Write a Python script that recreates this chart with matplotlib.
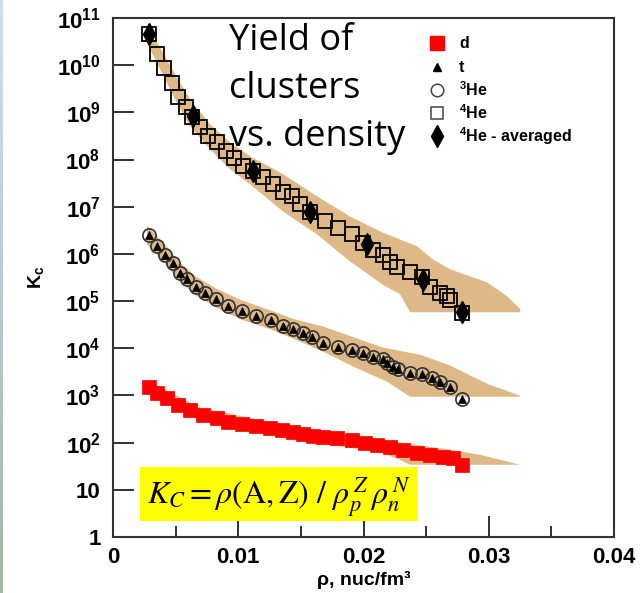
import numpy as np
import matplotlib.pyplot as plt
from matplotlib.patches import Rectangle
from matplotlib.ticker import FixedLocator, FuncFormatter, MultipleLocator

plt.rcParams['font.family'] = ['Liberation Sans', 'DejaVu Sans']
plt.rcParams['mathtext.fontset'] = 'custom'
plt.rcParams['mathtext.rm'] = 'Liberation Sans:bold'
plt.rcParams['mathtext.bf'] = 'Liberation Sans:bold'
plt.rcParams['mathtext.it'] = 'Liberation Sans:bold'

# ---- measured constants (density in nuc/fm^3) ----
rho_d = [0.00288, 0.00351, 0.00431, 0.00519, 0.00615, 0.00719, 0.00831, 0.00919,
         0.01030, 0.01142, 0.01254, 0.01350, 0.01438, 0.01518, 0.01597, 0.01677,
         0.01789, 0.01909, 0.02013, 0.02109, 0.02212, 0.02316, 0.02428, 0.02532,
         0.02636, 0.02716, 0.02788]
k_d = [1514, 1148, 891, 631, 501, 389, 339, 275, 251, 229, 204, 186, 170, 155,
       138, 132, 126, 115, 100, 89, 81, 71, 60, 55, 50, 48, 34]

rho_3he = [0.00288, 0.00351, 0.00415, 0.00479, 0.00535, 0.00591, 0.00663, 0.00735,
           0.00823, 0.00919, 0.01030, 0.01142, 0.01262, 0.01358, 0.01438, 0.01518,
           0.01589, 0.01677, 0.01797, 0.01909, 0.01997, 0.02077, 0.02157, 0.02188,
           0.02236, 0.02276, 0.02372, 0.02468, 0.02548, 0.02612, 0.02692, 0.02788]
k_3he = [2.5e6, 1.5e6, 9.7e5, 6.3e5, 4.0e5, 3.0e5, 2.0e5, 1.5e5, 1.1e5, 8.0e4,
         6.3e4, 4.9e4, 3.9e4, 3.0e4, 2.5e4, 2.1e4, 1.7e4, 1.3e4, 1.08e4, 9.3e3,
         8.1e3, 6.6e3, 5.8e3, 4.9e3, 4.1e3, 3.7e3, 3.0e3, 2.8e3, 2.3e3, 1.9e3,
         1.5e3, 850]
# triton constants coincide with 3He
rho_t = rho_3he
k_t = k_3he

rho_4he = [0.00288, 0.00351, 0.00407, 0.00471, 0.00519, 0.00583, 0.00631, 0.00695,
           0.00759, 0.00831, 0.00903, 0.00966, 0.01038, 0.01118, 0.01198, 0.01278,
           0.01358, 0.01430, 0.01494, 0.01574, 0.01693, 0.01797, 0.01909, 0.01997,
           0.02077, 0.02157, 0.02212, 0.02268, 0.02372, 0.02468, 0.02532, 0.02612,
           0.02668, 0.02690, 0.02788]
k_4he = [4.6e10, 1.7e10, 8.7e9, 4.2e9, 2.1e9, 1.3e9, 7.9e8, 4.8e8, 3.1e8, 2.3e8,
         1.5e8, 1.07e8, 7.2e7, 5.6e7, 4.2e7, 3.0e7, 2.1e7, 1.66e7, 1.12e7, 7.6e6,
         4.9e6, 3.6e6, 2.6e6, 1.74e6, 1.23e6, 9.7e5, 6.9e5, 5.4e5, 4.1e5, 3.2e5,
         2.0e5, 1.5e5, 1.26e5, 1.07e5, 5.7e4]

rho_4he_avg = [0.00288, 0.00639, 0.01118, 0.01574, 0.02029, 0.02476, 0.02788]
k_4he_avg = [4.6e10, 8.3e8, 5.6e7, 7.6e6, 1.6e6, 2.8e5, 6.0e4]

# ---- model bands (upper / lower edges) ----
band_4he_up_x = [0.0027, 0.00375, 0.00495, 0.00615, 0.00775, 0.00935, 0.01094, 0.01358,
                 0.01629, 0.01893, 0.02157, 0.02428, 0.02556, 0.02692, 0.02987, 0.03147, 0.03251]
band_4he_up_y = [5.8e10, 2.4e10, 6.5e9, 1.9e9, 5.6e8, 2.3e8, 1.17e8, 4.9e7,
                 1.66e7, 6.2e6, 2.8e6, 1.45e6, 7.6e5, 4.7e5, 2.5e5, 1.26e5, 6.8e4]
band_4he_lo_x = [0.0027, 0.00375, 0.00495, 0.00615, 0.00775, 0.00935, 0.01094, 0.01358,
                 0.01629, 0.01893, 0.02157, 0.02292, 0.02372, 0.03251]
band_4he_lo_y = [3.0e10, 8.3e9, 1.9e9, 5.0e8, 1.66e8, 6.2e7, 3.0e7, 7.9e6,
                 2.6e6, 6.9e5, 2.2e5, 1.4e5, 5.8e4, 5.8e4]

band_3he_up_x = [0.00272, 0.00415, 0.00535, 0.00663, 0.00823, 0.01030, 0.01262, 0.01438,
                 0.01677, 0.01909, 0.02157, 0.02452, 0.02692, 0.02987, 0.03251]
band_3he_up_y = [4.0e6, 1.58e6, 6.6e5, 3.3e5, 1.84e5, 1.03e5, 6.3e4, 4.2e4,
                 2.9e4, 1.76e4, 1.03e4, 7.3e3, 4.3e3, 1.77e3, 990]
band_3he_lo_x = [0.00272, 0.00415, 0.00535, 0.00663, 0.00823, 0.01030, 0.01262, 0.01438,
                 0.01677, 0.01917, 0.02188, 0.02372, 0.03251]
band_3he_lo_y = [1.58e6, 6.3e5, 2.6e5, 1.31e5, 7.3e4, 4.0e4, 2.5e4, 1.6e4,
                 8.5e3, 4.1e3, 1.95e3, 940, 940]

band_d_up_x = [0.0027, 0.00695, 0.01494, 0.02292, 0.02692, 0.02931, 0.03251]
band_d_up_y = [2100, 550, 204, 100, 71, 55, 34]
band_d_lo_x = [0.0027, 0.00695, 0.01494, 0.02133, 0.02292, 0.02372, 0.03251]
band_d_lo_y = [1100, 290, 110, 63, 43, 34, 34]

x_ticks = [0, 0.01, 0.02, 0.03, 0.04]
x_ticklabels = ['0', '0.01', '0.02', '0.03', '0.04']
title_lines = ['Yield of', 'clusters', 'vs. density']
legend_labels = ['d', 't', r'$^{\mathbf{3}}$He', r'$^{\mathbf{4}}$He', r'$^{\mathbf{4}}$He - averaged']

band_color = '#deb887'

fig = plt.figure(figsize=(6.4, 5.93), dpi=100)

# slide background strip on the left edge
strip = fig.add_axes([0, 0, 3 / 640, 1])
grad = np.linspace(0, 1, 256).reshape(-1, 1)
strip.imshow(np.dstack([0.82 - 0.19 * grad, 0.86 - 0.14 * grad, 1.0 - 0.36 * grad]),
             aspect='auto', extent=[0, 1, 0, 1], origin='upper')
strip.axis('off')

ax = fig.add_axes([113 / 640, 56 / 593, 501 / 640, 519 / 593])

for ux, uy, lx, ly in [(band_4he_up_x, band_4he_up_y, band_4he_lo_x, band_4he_lo_y),
                       (band_3he_up_x, band_3he_up_y, band_3he_lo_x, band_3he_lo_y),
                       (band_d_up_x, band_d_up_y, band_d_lo_x, band_d_lo_y)]:
    ax.fill(list(ux) + list(lx)[::-1], list(uy) + list(ly)[::-1],
            color=band_color, lw=0, zorder=1)

ax.plot(rho_d, k_d, ls='none', marker='s', ms=10.5, mfc='#ff0000', mec='#ff0000',
        mew=0.5, zorder=3)
ax.plot(rho_3he, k_3he, ls='none', marker='o', ms=9.5, mfc='none', mec='#333333',
        mew=1.2, zorder=3)
ax.plot(rho_t, k_t, ls='none', marker='^', ms=5.5, mfc='black', mec='black',
        mew=0.5, zorder=4)
ax.plot(rho_4he, k_4he, ls='none', marker='s', ms=9.6, mfc='none', mec='black',
        mew=1.3, zorder=3)
ax.plot(rho_4he_avg, k_4he_avg, ls='none', marker='d', ms=11, mfc='black', mec='black',
        zorder=4)

ax.set_yscale('log')
ax.set_ylim(1, 1e11)
ax.set_xlim(0, 0.04)

ax.set_xticks(x_ticks)
ax.set_xticklabels(x_ticklabels)
ax.xaxis.set_minor_locator(MultipleLocator(0.005))


def log_label(v, pos):
    e = int(round(np.log10(v)))
    if e == 0:
        return '1'
    if e == 1:
        return '10'
    return r'$\mathbf{10^{%d}}$' % e


ax.yaxis.set_major_locator(FixedLocator([10.0 ** e for e in range(12)]))
ax.yaxis.set_major_formatter(FuncFormatter(log_label))

ax.tick_params(which='both', direction='in', top=False, right=False, width=1.3,
               color='#222222')
ax.tick_params(which='major', length=15, labelsize=16)
ax.tick_params(axis='x', which='major', pad=7)
ax.tick_params(axis='y', which='major', pad=9)
ax.tick_params(which='minor', length=8)
for lab in ax.get_xticklabels() + ax.get_yticklabels():
    lab.set_fontweight('bold')
for sp in ax.spines.values():
    sp.set_linewidth(1.5)
    sp.set_color('#333333')

ax.set_ylabel(r'$\mathbf{K_c}$', fontsize=14, labelpad=8)
ax.set_xlabel('ρ, nuc/fm³', fontsize=14, fontweight='bold', labelpad=2)

# title written inside the frame
for i, line in enumerate(title_lines):
    fig.text(229 / 640, 1 - (50 + 48 * i) / 593, line, fontsize=26,
             family='Open Sans', color='black', va='baseline', ha='left', zorder=10)

# legend drawn by hand
leg_x = 437 / 640
txt_x = 459 / 640
leg_y = [43, 67, 90, 113, 136]
leg_styles = [dict(marker='s', ms=10, mfc='#ff0000', mec='#ff0000'),
              dict(marker='^', ms=6, mfc='black', mec='black'),
              dict(marker='o', ms=9, mfc='none', mec='#444444', mew=1.1),
              dict(marker='s', ms=9, mfc='none', mec='#444444', mew=1.1),
              dict(marker='d', ms=11, mfc='black', mec='black')]
for y, lab, st in zip(leg_y, legend_labels, leg_styles):
    fig.lines.append(plt.Line2D([leg_x], [1 - y / 593], transform=fig.transFigure, **st))
    fig.text(txt_x, 1 - y / 593, lab, fontsize=11.5, fontweight='bold', va='center',
             ha='left')

# definition of the yield ratio on a yellow card
fig.patches.append(Rectangle((140 / 640, 1 - 521 / 593), 278 / 640, 54 / 593,
                             transform=fig.transFigure, fc='#ffff00', ec='none',
                             zorder=5))
fig.text(279 / 640, 1 - 503 / 593,
         r'$K_C = \rho(\mathrm{A,Z})\ /\ \rho_p^{\,Z}\,\rho_n^{\,N}$',
         fontsize=23, math_fontfamily='stix', ha='center', va='baseline', zorder=6)

fig.savefig('out.png', dpi=100)
